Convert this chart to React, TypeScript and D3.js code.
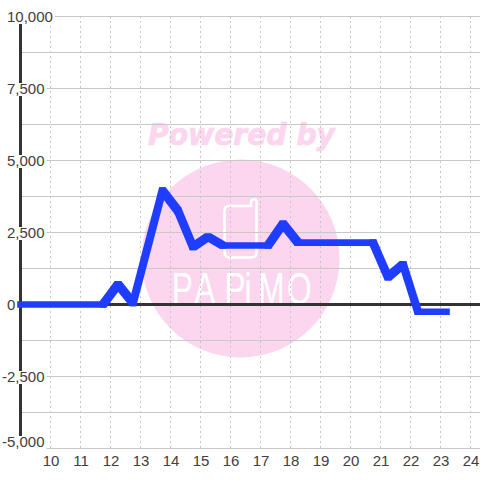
import React from "react";
import * as d3 from "d3";

const yMajor = [10000, 7500, 5000, 2500, 0, -2500, -5000];
const yMinor = [8750, 6250, 3750, 1250, -1250, -3750];
const xTicks = [10, 11, 12, 13, 14, 15, 16, 17, 18, 19, 20, 21, 22, 23, 24];
const hours = [9, 11.75, 12.25, 12.75, 13.73, 14.25, 14.75, 15.25, 15.75, 17.25, 17.75, 18.25, 20.75, 21.25, 21.75, 22.25, 23.2];
const values = [0, 0, 700, 50, 3960, 3250, 2000, 2350, 2050, 2050, 2800, 2150, 2150, 950, 1400, -250, -250];

const x = d3.scaleLinear().domain([9, 24]).range([20.5, 470.5]);
const y = d3.scaleLinear().domain([-5000, 10000]).range([448.5, 16.5]);
const pen = 3.3;
const segs = values.slice(1).map((v, i) => {
  const pts: [number, number][] = [];
  [[hours[i], values[i]], [hours[i + 1], v]].forEach(([h, val]) => {
    [[-pen, -pen], [pen, -pen], [pen, pen], [-pen, pen]].forEach(([dx, dy]) => pts.push([x(h) + dx, y(val) + dy]));
  });
  const hull = d3.polygonHull(pts) ?? [];
  return "M" + hull.map((p) => p.join(",")).join("L") + "Z";
});
const fmt = (v: number) => d3.format(",")(v).replace("\u2212", "-");
const FONT = "'Liberation Sans', Arial, sans-serif";
const PINK = "#fcd6ee";
const INK = "#404040";

export default function App() {
  return (
    <svg width={480} height={480} style={{ position: "absolute", left: 0, top: 0, background: "#fff" }}>
      <g>
        <circle cx={240.5} cy={258.5} r={99} fill={PINK} />
        <text x={148} y={145} fill={PINK} stroke={PINK} strokeWidth={0.7} fontFamily="'DejaVu Sans'" fontWeight="bold" fontStyle="italic" fontSize={30} textLength={187} lengthAdjust="spacingAndGlyphs">Powered by</text>
        <path d="M229 206 H251 V201.5 Q251 199.5 254 199.5 Q256.5 199.5 256.5 202 V252 Q256.5 257.5 251 257.5 H230 Q224.5 257.5 224.5 252 V211 Q224.5 206 229 206 Z" fill="none" stroke="#fff" strokeWidth={2.5} />
        <text transform="translate(174,304) scale(0.72,1)" x="-3 28 70 98 117 157" y={0} fill="#fff" fontFamily={FONT} fontSize={44}>PAPiMO</text>
      </g>
      {yMinor.concat(yMajor).map((v) => (
        <line key={v} x1={22} x2={480} y1={y(v)} y2={y(v)} stroke="#c8c8c8" strokeWidth={1} />
      ))}
      {xTicks.map((t) => (
        <line key={t} x1={x(t)} x2={x(t)} y1={16} y2={448} stroke="#c8c8c8" strokeWidth={1} strokeDasharray="2 3" />
      ))}
      <line x1={20.5} x2={20.5} y1={16} y2={448} stroke="#333" strokeWidth={3} />
      <line x1={20} x2={480} y1={y(0)} y2={y(0)} stroke="#333" strokeWidth={3} />
      {yMajor.map((v) => {
        const label = fmt(v);
        const neg = v < 0;
        const yy = v === -5000 ? 447 : y(v) + 5.5;
        const tw = (label.replace(/[,-]/g, "").length * 8.34) + (label.includes(",") ? 4.17 : 0);
        return (
          <g key={v}>
            <rect x={0} y={yy - 11} width={7 + tw + 2} height={13} fill="#fff" />
            <text x={neg ? 2 : 7} y={yy} fontFamily={FONT} fontSize={15} fill={INK}>{label}</text>
          </g>
        );
      })}
      {segs.map((d, i) => (
        <path key={i} d={d} fill="#1f3dff" />
      ))}
      {xTicks.map((t) => (
        <text key={t} x={x(t) + 0.5} y={466} textAnchor="middle" fontFamily={FONT} fontSize={15} fill={INK}>{t}</text>
      ))}
    </svg>
  );
}
